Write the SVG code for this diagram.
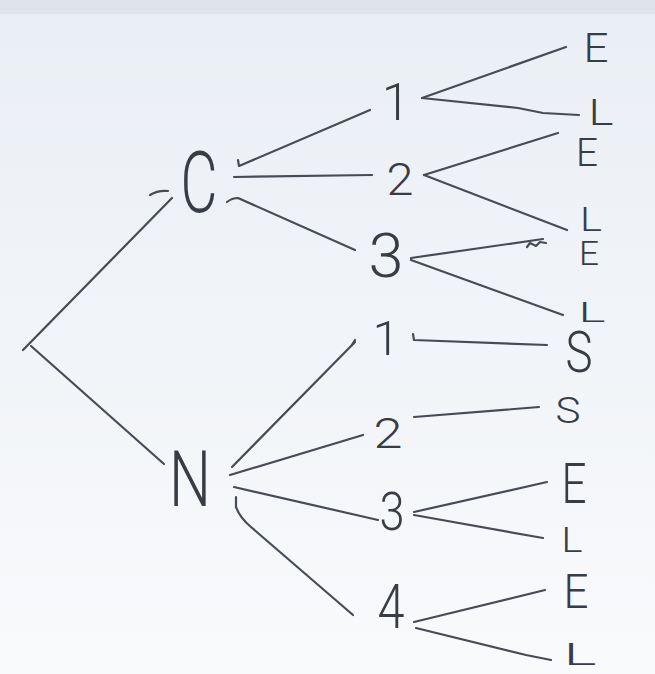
<svg xmlns="http://www.w3.org/2000/svg" width="655" height="674" viewBox="0 0 655 674">
  <defs>
    <linearGradient id="paper" x1="0" y1="0" x2="0" y2="1">
      <stop offset="0" stop-color="#eaeff5"/>
      <stop offset="0.5" stop-color="#f1f4f8"/>
      <stop offset="1" stop-color="#f9fafc"/>
    </linearGradient>
    <style>
      .ink { fill: none; stroke: #474b55; stroke-width: 2.2; stroke-linecap: round; stroke-linejoin: round; }
      .lbl { fill: #383c45; font-family: Roboto, "Open Sans", "Liberation Sans", sans-serif; font-weight: 300; text-anchor: middle; }
    </style>
  </defs>

  <!-- paper -->
  <rect width="655" height="674" fill="url(#paper)"/>
  <rect width="655" height="14" fill="#dfe4eb"/>

  <!-- connectors -->
  <g id="connectors" class="ink">
    <!-- root fork -->
    <path d="M23,350 L172,198"/>
    <path d="M150,195 Q158,190 168,191"/>
    <path d="M31,346 L164,464"/>

    <!-- C to outcomes 1..3 -->
    <path d="M238,160 L239,166 L370,110"/>
    <path d="M234,177 L372,175"/>
    <path d="M227,202 Q232,198 238,198 L355,250"/>

    <!-- C1 to E / L -->
    <path d="M422,98 L566,47"/>
    <path d="M422,98 L518,108 L543,113 L579,115"/>
    <!-- C2 to E / L -->
    <path d="M424,175 L558,133"/>
    <path d="M424,175 L567,230"/>
    <!-- C3 to E / L -->
    <path d="M411,258 L543,239"/>
    <path d="M527,247 L530,243 L536,246 L540,242 L546,243"/>
    <path d="M411,260 L563,315"/>

    <!-- N to outcomes 1..4 -->
    <path d="M232,467 L355,342"/>
    <path d="M352,345 L355,340"/>
    <path d="M230,475 L363,435"/>
    <path d="M234,487 L378,520"/>
    <path d="M236,497 L236,507 Q240,518 251,527 L353,615"/>

    <!-- N1 to S, N2 to S -->
    <path d="M413,334 L414,340 L547,345"/>
    <path d="M414,417 L539,407"/>
    <!-- N3 to E / L -->
    <path d="M414,512 L547,482"/>
    <path d="M414,515 L543,538"/>
    <!-- N4 to E / L -->
    <path d="M414,622 L545,590"/>
    <path d="M416,628 L526,655 L551,660"/>
  </g>

  <!-- root branch C -->
  <g id="node-C"><text class="lbl" x="199" y="212" font-size="85" textLength="37" lengthAdjust="spacingAndGlyphs">C</text></g>
  <g id="node-C1"><text class="lbl" x="396" y="120" font-size="51">1</text></g>
  <g id="node-C2"><text class="lbl" x="400" y="195" font-size="44" textLength="27" lengthAdjust="spacingAndGlyphs">2</text></g>
  <g id="node-C3"><text class="lbl" x="386" y="277" font-size="61" textLength="35" lengthAdjust="spacingAndGlyphs">3</text></g>
  <g id="node-C1E"><text class="lbl" x="596" y="62" font-size="40" textLength="25" lengthAdjust="spacingAndGlyphs">E</text></g>
  <g id="node-C1L"><text class="lbl" x="601" y="125" font-size="36" textLength="25" lengthAdjust="spacingAndGlyphs">L</text></g>
  <g id="node-C2E"><text class="lbl" x="587" y="166" font-size="39" textLength="22" lengthAdjust="spacingAndGlyphs">E</text></g>
  <g id="node-C2L"><text class="lbl" x="591" y="231" font-size="34" textLength="22" lengthAdjust="spacingAndGlyphs">L</text></g>
  <g id="node-C3E"><text class="lbl" x="589" y="265" font-size="33" textLength="20" lengthAdjust="spacingAndGlyphs">E</text></g>
  <g id="node-C3L"><text class="lbl" x="592" y="322" font-size="28" textLength="27" lengthAdjust="spacingAndGlyphs">L</text></g>

  <!-- root branch N -->
  <g id="node-N"><text class="lbl" x="190" y="506" font-size="78" textLength="42" lengthAdjust="spacingAndGlyphs">N</text></g>
  <g id="node-N1"><text class="lbl" x="386" y="355" font-size="49">1</text></g>
  <g id="node-N2"><text class="lbl" x="388" y="448" font-size="43" textLength="29" lengthAdjust="spacingAndGlyphs">2</text></g>
  <g id="node-N3"><text class="lbl" x="392" y="530" font-size="53" textLength="25" lengthAdjust="spacingAndGlyphs">3</text></g>
  <g id="node-N4"><text class="lbl" x="391" y="628" font-size="62" textLength="27" lengthAdjust="spacingAndGlyphs">4</text></g>
  <g id="node-N1S"><text class="lbl" x="579" y="372" font-size="58" textLength="27" lengthAdjust="spacingAndGlyphs">S</text></g>
  <g id="node-N2S"><text class="lbl" x="568" y="423" font-size="36" textLength="25" lengthAdjust="spacingAndGlyphs">S</text></g>
  <g id="node-N3E"><text class="lbl" x="574" y="503" font-size="55" textLength="25" lengthAdjust="spacingAndGlyphs">E</text></g>
  <g id="node-N3L"><text class="lbl" x="572" y="552" font-size="35" textLength="21" lengthAdjust="spacingAndGlyphs">L</text></g>
  <g id="node-N4E"><text class="lbl" x="576" y="608" font-size="49" textLength="25" lengthAdjust="spacingAndGlyphs">E</text></g>
  <g id="node-N4L"><text class="lbl" x="580" y="665" font-size="32" textLength="33" lengthAdjust="spacingAndGlyphs">L</text></g>
</svg>
